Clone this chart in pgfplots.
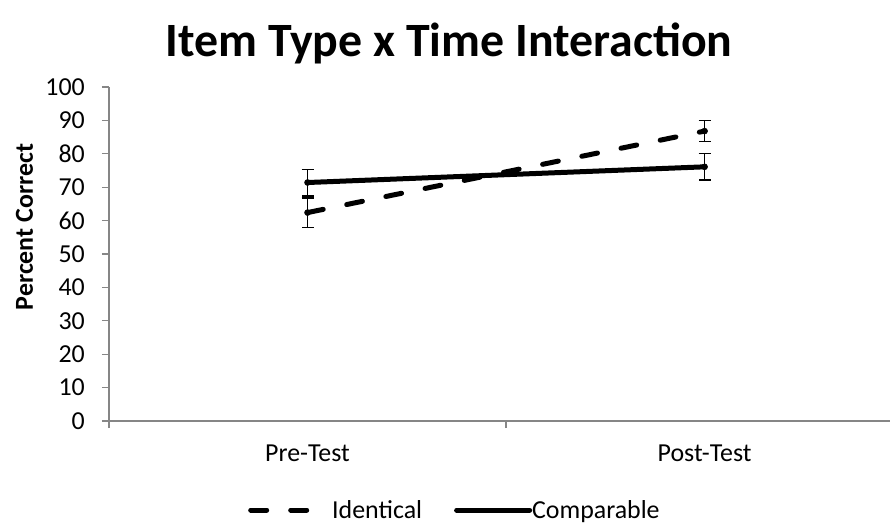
\documentclass[border=0pt]{standalone}
\usepackage{pgfplots}
\pgfplotsset{compat=1.18}
\usepackage{fontspec}
\setmainfont{Carlito}
\definecolor{axgray}{HTML}{868686}
\pgfplotsset{
  dashleg/.style={legend image code/.code={\draw[##1] (0bp,0bp) -- (64bp,0bp); \path (79bp,0bp);}},
  solidleg/.style={legend image code/.code={\draw[##1] (0bp,0bp) -- (73bp,0bp);}},
}
\begin{document}
\begin{tikzpicture}
\path[use as bounding box] (-109bp,-104bp) rectangle (783bp,421bp);
\begin{axis}[
  at={(0,0)}, anchor=south west,
  scale only axis, width=781bp, height=334bp,
  xmin=0, xmax=1.967, ymin=0, ymax=100,
  axis x line*=bottom, axis y line*=left,
  axis line style={axgray, line width=1.3bp},
  every tick/.style={axgray, line width=1.3bp},
  major tick length=7bp, tick align=outside,
  ytick={0,10,...,100},
  xtick={0,1}, xticklabels={},
  extra x ticks={0.5,1.5}, extra x tick labels={Pre-Test,Post-Test},
  extra x tick style={major tick length=0pt},
  ticklabel style={font=\fontsize{26}{30}\selectfont, text=black},
  /pgf/number format/assume math mode=true,
  yticklabel style={inner sep=0pt, xshift=-17bp},
  xticklabel style={inner sep=0pt, anchor=north, yshift=-24bp},
  legend columns=2,
  legend style={at={(axis description cs:0.178,-0.2665)}, anchor=west,
    draw=none, fill=none, inner sep=0pt, font=\fontsize{26}{30}\selectfont,
    nodes={inner sep=0pt},
    /tikz/every even column/.append style={column sep=32bp}},
]
\addplot[black, line width=5bp, dash pattern=on 16bp off 24bp, line cap=round,
  mark=*, mark size=3bp, mark options={solid, line width=0.5bp}, dashleg,
  error bars/.cd, y dir=both, y explicit,
  error bar style={line width=1.3bp, solid, line cap=butt},
  error mark options={rotate=90, mark size=6bp, line width=1.3bp, solid}]
  coordinates {(0.5,62.4) +- (0,4.4) (1.5,86.8) +- (0,3.1)};
\addlegendentry{Identical}
\addplot[black, line width=5bp, line cap=round,
  mark=*, mark size=3bp, mark options={solid, line width=0.5bp}, solidleg,
  error bars/.cd, y dir=both, y explicit,
  error bar style={line width=1.3bp, solid, line cap=butt},
  error mark options={rotate=90, mark size=6bp, line width=1.3bp, solid}]
  coordinates {(0.5,71.4) +- (0,4.0) (1.5,76.1) +- (0,3.95)};
\addlegendentry{Comparable}
\end{axis}
\node[font=\fontsize{48}{56}\selectfont\bfseries, anchor=base] at (340bp,364bp) {Item Type x Time Interaction};
\node[font=\fontsize{26}{30}\selectfont\bfseries, rotate=90, anchor=base] at (-76bp,194bp) {Percent Correct};
\end{tikzpicture}
\end{document}
